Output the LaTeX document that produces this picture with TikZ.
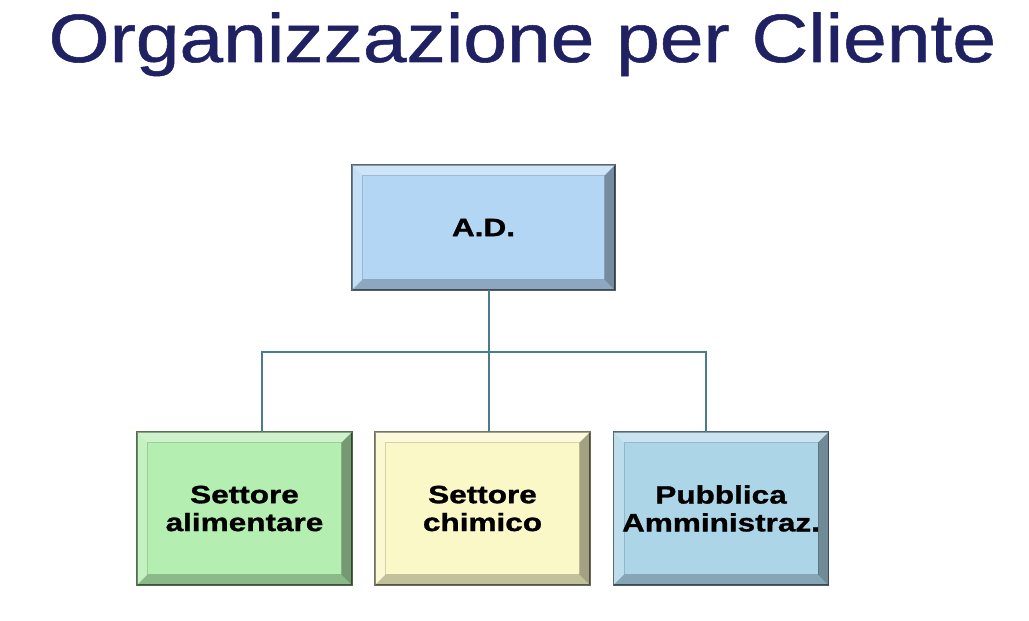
\documentclass[tikz,border=0pt]{standalone}
\usepackage{fontspec}
\setmainfont{Liberation Sans}
\newfontfamily\titlefont[FakeStretch=1.15,FakeBold=0.8]{Liberation Sans}
\newfontfamily\boxfont[FakeStretch=1.26,FakeBold=1.2]{Liberation Sans}
\usetikzlibrary{calc}

\definecolor{titleblue}{HTML}{1F2163}
\definecolor{adblue}{HTML}{B4D6F5}
\definecolor{alimgreen}{HTML}{B4EEB0}
\definecolor{chimyellow}{HTML}{FBF8C8}
\definecolor{pablue}{HTML}{ADD5E8}
\definecolor{linkteal}{HTML}{4A7D8C}

\tikzset{
  orgbox/.style={fill=#1, draw=#1!45!black, line width=0.8pt, outer sep=0pt,
    align=center, font=\boxfont\bfseries\fontsize{17.8}{19.8}\selectfont},
  link/.style={draw=linkteal, line width=1.8pt}
}
\newcommand{\bw}{0.26}

\begin{document}
\begin{tikzpicture}
\useasboundingbox (0,0) rectangle (25.725,15.5);

% title
\node[anchor=base, text=titleblue, font=\titlefont\fontsize{48.6}{56}\selectfont] (title) at (13.06,13.95) {Organizzazione per Cliente};

% boxes
\node[orgbox=adblue, minimum width=6.575cm, minimum height=3.125cm] (ad) at (12.0875,9.8125) {A.D.};
\node[orgbox=alimgreen, minimum width=5.375cm, minimum height=3.825cm] (alim) at (6.1125,2.7875) {Settore\\alimentare};
\node[orgbox=chimyellow, minimum width=5.375cm, minimum height=3.825cm] (chim) at (12.0625,2.7875) {Settore\\chimico};
\node[orgbox=pablue, minimum width=5.375cm, minimum height=3.825cm] (pa) at (18.025,2.7875) {Pubblica\\Amministraz.};

% bevels
\foreach \n in {ad,alim,chim,pa} {
  \fill[white, opacity=0.35] (\n.north west) -- (\n.north east) -- ($(\n.north east)+(-\bw,-\bw)$) -- ($(\n.north west)+(\bw,-\bw)$) -- cycle;
  \fill[white, opacity=0.2] (\n.north west) -- ($(\n.north west)+(\bw,-\bw)$) -- ($(\n.south west)+(\bw,\bw)$) -- (\n.south west) -- cycle;
  \fill[black, opacity=0.35] (\n.north east) -- (\n.south east) -- ($(\n.south east)+(-\bw,\bw)$) -- ($(\n.north east)+(-\bw,-\bw)$) -- cycle;
  \fill[black, opacity=0.22] (\n.south west) -- ($(\n.south west)+(\bw,\bw)$) -- ($(\n.south east)+(-\bw,\bw)$) -- (\n.south east) -- cycle;
  \draw[black, opacity=0.15, line width=0.5pt] ($(\n.south west)+(\bw,\bw)$) rectangle ($(\n.north east)+(-\bw,-\bw)$);
}

% connectors
\coordinate (bus) at (12.225,6.7);
\draw[link] (ad.south -| bus) -- (chim.north -| bus);
\draw[link] ([xshift=0.44cm]alim.north) |- (bus) -| ([xshift=-0.37cm]pa.north);

\end{tikzpicture}
\end{document}
